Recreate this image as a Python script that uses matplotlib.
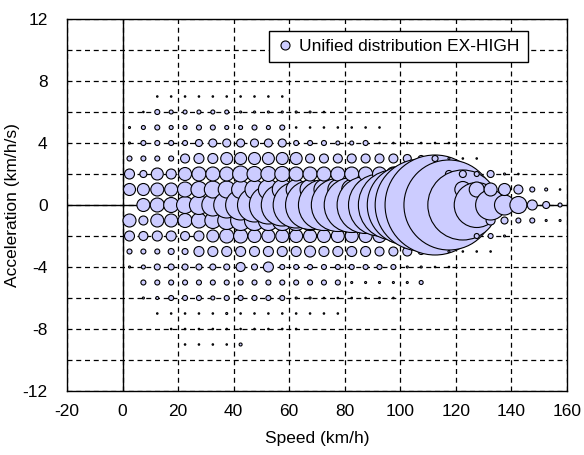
import matplotlib
matplotlib.use("Agg")
import matplotlib.pyplot as plt
from matplotlib.ticker import MultipleLocator
import numpy as np

plt.rcParams['font.family'] = ['Liberation Sans', 'DejaVu Sans']

# speed bins (km/h) and acceleration rows (km/h/s)
speeds = [2.5 + 5 * k for k in range(32)]
accels = [7, 6, 5, 4, 3, 2, 1, 0, -1, -2, -3, -4, -5, -6, -7, -8, -9]

# relative bubble size (bubble diameter, arbitrary units) per acceleration row, per speed bin
acc_p7 = [0, 0, 1.5, 1.5, 1.5, 1.5, 1.5, 1.5, 1.5, 1.5, 1.5, 1.5, 0, 0, 0, 0, 0, 0, 0, 0, 0, 0, 0, 0, 0, 0, 0, 0, 0, 0, 0, 0]
acc_p6 = [0, 1.5, 5, 4, 4, 4, 4, 4, 2, 2, 2, 2, 2, 2, 1.5, 0, 0, 0, 0, 0, 0, 0, 0, 0, 0, 0, 0, 0, 0, 0, 0, 0]
acc_p5 = [2, 4, 5, 4, 4, 5, 5, 4, 4, 5, 4, 5, 1.5, 1.5, 1.5, 1.5, 1.5, 1.5, 1.5, 0, 0, 0, 0, 0, 0, 0, 0, 0, 0, 0, 0, 0]
acc_p4 = [2, 5, 5, 5, 5, 7, 8, 8, 8, 8, 8, 8, 5, 5, 5, 4, 4, 5, 1.5, 1.5, 1.5, 1.5, 1.5, 1.5, 0, 0, 0, 0, 0, 0, 0, 0]
acc_p3 = [5, 5, 5, 5, 9, 10, 10, 12, 12, 12, 12, 12, 12, 9, 9, 9, 9, 9, 9, 9, 8, 6, 6, 2, 1.5, 1.5, 0, 0, 0, 0, 0, 0]
acc_p2 = [10, 7, 12, 10, 13, 14, 14, 14, 16, 15, 15, 15, 14, 14, 14, 14, 14, 14, 14, 14, 12, 10, 8, 7, 7, 5, 7, 2, 1.5, 0, 0, 0]
acc_p1 = [12, 12, 13, 13, 15, 16, 17, 17, 18, 19, 20, 20, 20, 20, 20, 20, 20, 20, 20, 20, 20, 20, 20, 18, 16, 15, 13, 12, 9, 5, 3, 1.5]
acc_0 = [0, 13, 14, 15, 17, 19, 22, 26, 30, 34, 38, 42, 46, 49, 51, 53, 55, 57, 62, 70, 80, 92, 100, 90, 70, 45, 30, 20, 17, 10, 7, 4]
acc_m1 = [13, 9, 13, 13, 14, 15, 16, 18, 20, 20, 20, 20, 20, 20, 20, 20, 20, 20, 20, 20, 20, 20, 20, 18, 15, 12, 9, 7, 5, 5, 2, 2]
acc_m2 = [10, 9, 10, 10, 9, 10, 12, 14, 14, 13, 13, 13, 13, 13, 13, 13, 13, 13, 13, 12, 10, 8, 5, 5, 5, 5, 5, 2, 0, 0, 0, 0]
acc_m3 = [5, 5, 5, 6, 6, 10, 10, 10, 10, 10, 10, 10, 10, 11, 10, 10, 10, 10, 9, 9, 9, 6, 2, 2, 1.5, 1.5, 1.5, 0, 0, 0, 0, 0]
acc_m4 = [2, 4, 6, 6, 6, 6, 6, 6, 9, 6, 10, 5, 5, 5, 5, 5, 5, 5, 5, 5, 2, 2, 1.5, 1.5, 0, 0, 0, 0, 0, 0, 0, 0]
acc_m5 = [0, 5, 5, 5, 5, 5, 5, 5, 5, 5, 5, 5, 5, 5, 5, 5, 2, 2, 2, 2, 2, 4, 0, 0, 0, 0, 0, 0, 0, 0, 0, 0]
acc_m6 = [0, 2, 3, 5, 5, 5, 4, 5, 5, 5, 5, 5, 2, 2, 1.5, 1.5, 1.5, 1.5, 1.5, 1.5, 0, 0, 0, 0, 0, 0, 0, 0, 0, 0, 0, 0]
acc_m7 = [0, 0, 1.5, 1.5, 1.5, 1.5, 1.5, 2, 1.5, 1.5, 1.5, 1.5, 1.5, 1.5, 1.5, 1.5, 0, 0, 0, 0, 0, 0, 0, 0, 0, 0, 0, 0, 0, 0, 0, 0]
acc_m8 = [0, 0, 0, 1.5, 1.5, 1.5, 1.5, 1.5, 1.5, 1.5, 1.5, 1.5, 1.5, 0, 0, 0, 0, 0, 0, 0, 0, 0, 0, 0, 0, 0, 0, 0, 0, 0, 0, 0]
acc_m9 = [0, 0, 0, 0, 1.5, 1.5, 1.5, 1.5, 3, 0, 0, 0, 0, 0, 0, 0, 0, 0, 0, 0, 0, 0, 0, 0, 0, 0, 0, 0, 0, 0, 0, 0]

rows = [acc_p7, acc_p6, acc_p5, acc_p4, acc_p3, acc_p2, acc_p1, acc_0,
        acc_m1, acc_m2, acc_m3, acc_m4, acc_m5, acc_m6, acc_m7, acc_m8, acc_m9]

series_name = "Unified distribution EX-HIGH"
x_ticks = list(range(-20, 161, 20))
y_ticks = list(range(-12, 13, 4))

DPI = 100
fig = plt.figure(figsize=(5.84, 4.55), dpi=DPI)
ax = fig.add_axes([67 / 584, 1 - 391 / 455, 500 / 584, 372 / 455])

# draw order: by speed, then acceleration ascending
xs, ys, ds = [], [], []
order = np.argsort(accels)
for k, sp in enumerate(speeds):
    for r in order:
        d = rows[r][k]
        if d > 0:
            xs.append(sp)
            ys.append(accels[r])
            ds.append(d)
ds = np.array(ds)
sizes = (ds * 72.0 / DPI) ** 2

ax.set_xlim(-20, 160)
ax.set_ylim(-12, 12)
ax.set_xticks(x_ticks)
ax.set_yticks(y_ticks)
ax.yaxis.set_minor_locator(MultipleLocator(2))

gridstyle = dict(color='black', linewidth=0.9, linestyle=(0, (4, 3)))
ax.grid(True, which='major', axis='x', **gridstyle)
ax.grid(True, which='both', axis='y', **gridstyle)
ax.set_axisbelow(True)
ax.axhline(0, color='black', linewidth=1.0, zorder=1.5)
ax.axvline(0, color='black', linewidth=1.0, zorder=1.5)

ax.scatter(xs, ys, s=sizes, c='#CCCCFF', edgecolors='black', linewidths=0.8,
           zorder=3, label=series_name)

for sp in ax.spines.values():
    sp.set_color('black')
    sp.set_linewidth(1.0)

ax.tick_params(which='both', length=0, labelsize=12.5)
ax.tick_params(axis='x', pad=9)
ax.tick_params(axis='y', pad=14)
ax.set_xticklabels([str(v) for v in x_ticks])
ax.set_yticklabels([str(v) for v in y_ticks])
ax.set_xlabel("Speed (km/h)", fontsize=12.5, labelpad=9)
ax.set_ylabel("Acceleration (km/h/s)", fontsize=12.5, labelpad=2)

h = plt.Line2D([], [], marker='o', linestyle='none', markersize=6.5,
               markerfacecolor='#CCCCFF', markeredgecolor='black', markeredgewidth=0.8)
leg = ax.legend([h], [series_name], loc='upper left',
                bbox_to_anchor=(269 / 584, 1 - 31 / 455), bbox_transform=fig.transFigure,
                frameon=True, fancybox=False, framealpha=1, edgecolor='black',
                fontsize=12.5, handletextpad=0.3, borderpad=0.45, handlelength=1.0,
                borderaxespad=0)
leg.get_frame().set_linewidth(1.0)
leg.set_zorder(5)

fig.savefig("out.png", dpi=DPI)
